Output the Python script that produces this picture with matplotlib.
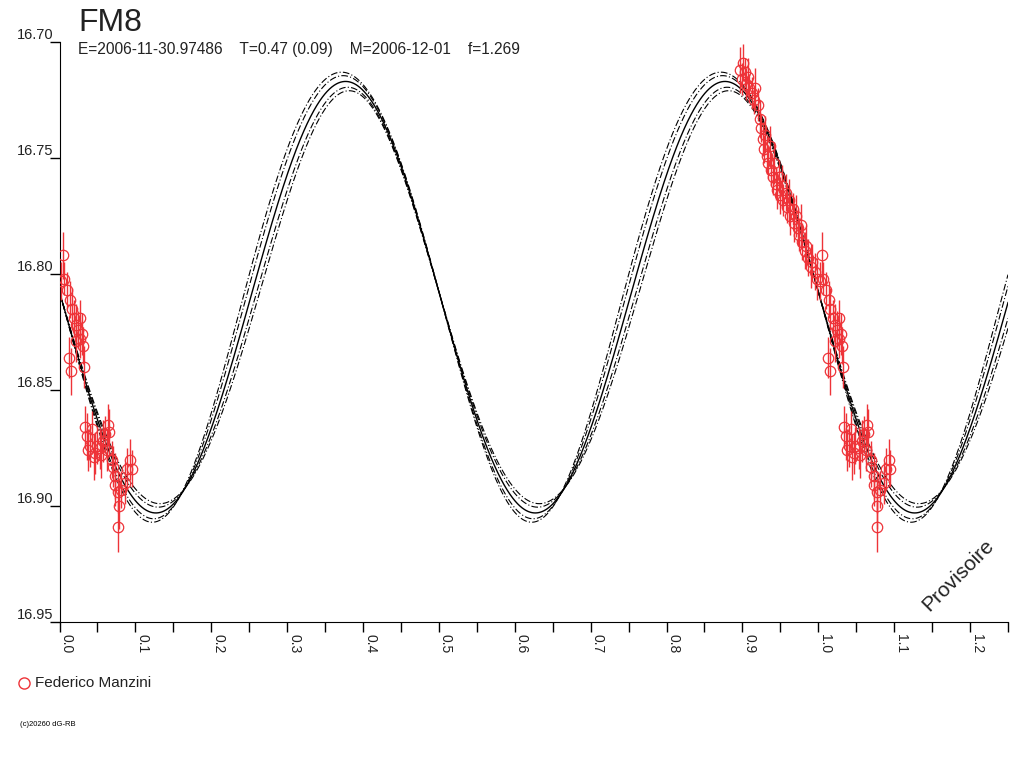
import numpy as np
import matplotlib
matplotlib.use("Agg")
import matplotlib.pyplot as plt

plt.rcParams['font.family'] = ['Liberation Sans', 'DejaVu Sans']

# observations: phase (0.89 .. 1.10), magnitude, error
phase = [0.897, 0.899, 0.901, 0.903, 0.905, 0.907, 0.909, 0.912, 0.915, 0.917,
         0.920, 0.923, 0.925, 0.927, 0.928, 0.930, 0.932, 0.934, 0.936, 0.938,
         0.940, 0.942, 0.944, 0.946, 0.948, 0.950, 0.952, 0.954, 0.957, 0.959,
         0.961, 0.963, 0.966, 0.968, 0.970, 0.973, 0.975, 0.977, 0.979, 0.982,
         0.984, 0.987, 0.990, 0.992, 0.995, 0.998,
         1.005, 1.002, 1.006, 1.010, 1.014, 1.016, 1.013, 1.015, 1.019, 1.022,
         1.024, 1.027, 1.030, 1.031, 1.032, 1.027, 1.022,
         1.034, 1.036, 1.040, 1.043, 1.038, 1.045, 1.047, 1.049, 1.053, 1.055,
         1.057, 1.060, 1.064, 1.065, 1.063, 1.069, 1.070, 1.073, 1.073, 1.077,
         1.078, 1.077, 1.081, 1.086, 1.089, 1.093, 1.095]
mag = [16.712, 16.716, 16.709, 16.713, 16.718, 16.715, 16.720, 16.722, 16.725, 16.720,
       16.727, 16.733, 16.737, 16.742, 16.746, 16.740, 16.749, 16.752, 16.745, 16.755,
       16.758, 16.752, 16.761, 16.764, 16.758, 16.766, 16.762, 16.768, 16.765, 16.771,
       16.768, 16.775, 16.772, 16.778, 16.775, 16.780, 16.783, 16.779, 16.786, 16.790,
       16.788, 16.793, 16.797, 16.795, 16.799, 16.802,
       16.792, 16.803, 16.802, 16.807, 16.811, 16.815, 16.836, 16.842, 16.819, 16.822,
       16.824, 16.819, 16.826, 16.831, 16.840, 16.828, 16.829,
       16.866, 16.870, 16.874, 16.867, 16.876, 16.879, 16.877, 16.874, 16.875, 16.878,
       16.872, 16.869, 16.865, 16.868, 16.876, 16.880, 16.883, 16.887, 16.891, 16.894,
       16.900, 16.909, 16.893, 16.890, 16.884, 16.880, 16.884]
err = [0.010, 0.007, 0.008, 0.006, 0.007, 0.008, 0.006, 0.007, 0.006, 0.009,
       0.007, 0.008, 0.006, 0.007, 0.006, 0.008, 0.008, 0.007, 0.009, 0.007,
       0.008, 0.009, 0.007, 0.008, 0.007, 0.008, 0.009, 0.007, 0.008, 0.007,
       0.009, 0.008, 0.007, 0.008, 0.009, 0.008, 0.007, 0.009, 0.008, 0.008,
       0.009, 0.008, 0.009, 0.008, 0.008, 0.009,
       0.010, 0.008, 0.007, 0.008, 0.008, 0.009, 0.009, 0.010, 0.008, 0.009,
       0.008, 0.008, 0.009, 0.008, 0.009, 0.008, 0.009,
       0.009, 0.010, 0.009, 0.008, 0.009, 0.010, 0.009, 0.008, 0.009, 0.010,
       0.009, 0.008, 0.009, 0.010, 0.009, 0.008, 0.009, 0.010, 0.009, 0.009,
       0.010, 0.011, 0.008, 0.009, 0.009, 0.009, 0.008]

# fitted model: mean mag, amplitude, phase of minimum, envelope params
m0 = 16.81
amp = 0.093
ph_min = 0.127
env = [(0.004, 0.010), (0.0025, 0.006)]   # (d amplitude, d phase)

title = "FM8"
subtitle = "E=2006-11-30.97486    T=0.47 (0.09)    M=2006-12-01    f=1.269"
observer = "Federico Manzini"
red = '#ee3338'

fig = plt.figure(figsize=(10.24, 7.68), dpi=100)
ax = fig.add_axes([59.5 / 1024, 1 - 622 / 768, 948.5 / 1024, 580 / 768])

x = np.linspace(0, 1.25, 2000)
th = 4 * np.pi * (x - ph_min)
g = (1 + np.sin(th)) / 2
ax.plot(x, m0 + amp * np.cos(th), color='black', lw=1.0)
for da, dp in env:
    for s in (1, -1):
        ax.plot(x, m0 + (amp + s * da) * np.cos(th + s * 4 * np.pi * dp * g),
                color='black', lw=0.8, ls=(0, (6, 2, 1, 2)))

phase = np.array(phase)
mag = np.array(mag)
err = np.array(err)
wrap = phase >= 1.0
px = np.concatenate([phase, phase[wrap] - 1.0])
py = np.concatenate([mag, mag[wrap]])
pe = np.concatenate([err, err[wrap]])
ax.errorbar(px, py, yerr=pe, fmt='o', ms=7.5, mfc='none', mec=red, mew=0.9,
            ecolor=red, elinewidth=1.0, capsize=0, zorder=3)

ax.set_xlim(0, 1.25)
ax.set_ylim(16.95, 16.70)
for s in ('top', 'right'):
    ax.spines[s].set_visible(False)

ax.set_xticks(np.arange(0, 1.21, 0.1))
ax.set_xticks(np.arange(0.05, 1.26, 0.1), minor=True)
ax.set_xticklabels(['%.1f' % v for v in np.arange(0, 1.21, 0.1)],
                   rotation=-90, ha='left', va='top', fontsize=10, color='#222222')
ax.tick_params(axis='x', which='both', direction='out', length=7.5, width=1, pad=1)

yt = [16.70, 16.75, 16.80, 16.85, 16.90, 16.95]
ax.set_yticks(yt)
ax.set_yticklabels(['%.2f' % v for v in yt], va='bottom', fontsize=10.5, color='#222222')
ax.tick_params(axis='y', direction='out', length=7.5, width=1, pad=-3)

fig.text(78 / 1024, 1 - 31 / 768, title, fontsize=23, color='#222222')
fig.text(78 / 1024, 1 - 54 / 768, subtitle, fontsize=11.2, color='#222222')

fig.lines.append(plt.Line2D([24 / 1024], [1 - 683 / 768], marker='o', ms=8,
                            mfc='none', mec=red, mew=1, transform=fig.transFigure))
fig.text(35 / 1024, 1 - 683 / 768, observer, fontsize=11, va='center', color='#222222')
fig.text(20 / 1024, 1 - 725 / 768, "(c)20260 dG-RB", fontsize=5.5, va='center')

fig.text(958 / 1024, 1 - 575 / 768, "Provisoire", fontsize=15, rotation=45,
         ha='center', va='center', color='#222222')

fig.savefig('out.png', dpi=100)
